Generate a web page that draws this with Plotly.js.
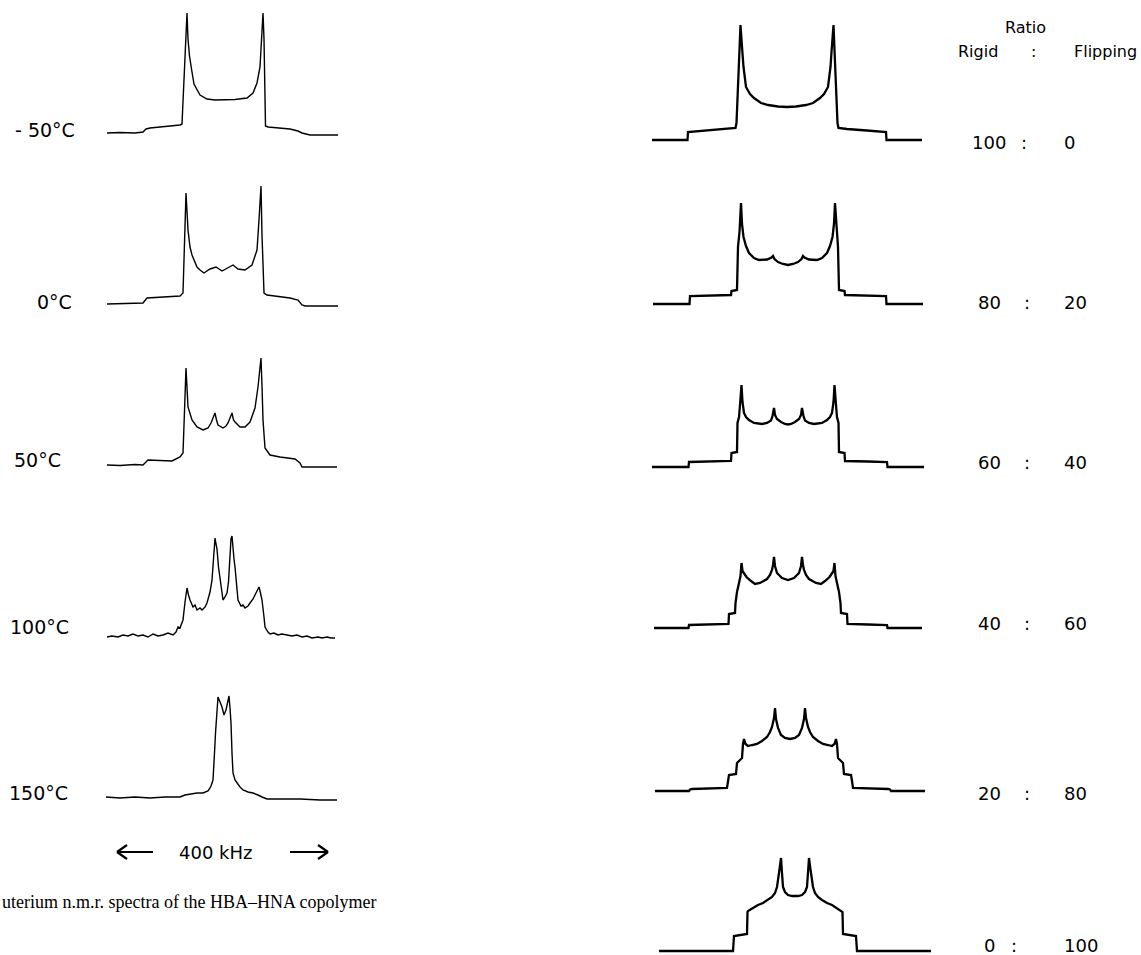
<!DOCTYPE html>
<html><head><meta charset="utf-8">
<script src="https://cdn.plot.ly/plotly-3.0.1.min.js"></script>
<style>html,body{margin:0;padding:0;background:#fff;overflow:hidden;} #chart{width:1141px;height:955px;}</style>
</head><body><div id="chart"></div>
<script>
// ---------- text ----------
const tempLabels = ["- 50°C", "0°C", "50°C", "100°C", "150°C"];
const ratioTitle = "Ratio";
const ratioHeadRigid = "Rigid";
const ratioHeadFlip = "Flipping";
const rigidPct = ["100", "80", "60", "40", "20", "0"];
const flipPct = ["0", "20", "40", "60", "80", "100"];
const scaleLabel = "400 kHz";
const captionText = "uterium n.m.r. spectra of the HBA\u2013HNA copolymer";

// ---------- experimental spectra (x: kHz offset, y: intensity, arbitrary units) ----------
const expM50_x = [-236,-210,-180,-164,-158,-150,-130,-110,-90,-86,-82,-79,-77,-76,-74,-71,-67,-62,-50,-36,-20,0,20,36,44,56,64,70,73,76,78,80,81,86,110,130,146,154,170,226];
const expM50_y = [1,1.5,1,2,5,6,7,8,9,10,55,100,115,121,95,78,65,50,39,35,34,34,34.5,35.5,36,41,51,67,91,121,95,51,8,7,6,5,3,1,-1,-1];

const exp0_x = [-236,-200,-164,-156,-140,-120,-106,-90,-84,-81,-78,-74,-70,-66,-56,-50,-42,-30,-18,-6,6,16,26,40,54,64,68,72,74,76,78,84,116,130,146,154,160,226];
const exp0_y = [1,1.5,2,7,7.5,8,8.5,9,12,60,112,75,58,50,38,35,32,36,38,34,37,40,36,35,40,55,85,119,70,25,12,10,8,7,5,0,-1,-1];

const exp50_x = [-236,-210,-180,-164,-154,-130,-106,-90,-84,-81,-78,-74,-70,-66,-56,-44,-34,-28,-24,-20,-17,-14,-4,2,6,10,14,17,20,30,40,50,60,66,72,74,76,80,90,110,130,140,150,154,224];
const exp50_y = [1,0.5,1.5,1,6,5.5,5,9,13,55,98,59,52,46,39,36,38,43,48,53,46,41,38,40,43,48,53,46,44,39,39,44,58,79,108,80,46,18,11,9,8,7,3,-1,-1];

const exp100_x = [-236,-226,-214,-204,-194,-184,-174,-164,-154,-144,-134,-124,-114,-104,-98,-94,-90,-84,-80,-76,-73,-70,-64,-60,-56,-50,-46,-40,-36,-30,-26,-22,-20,-18,-16,-13,-10,-7,-4,0,4,7,10,12,14,16,18,20,23,26,32,36,40,46,50,56,60,64,68,71,74,78,80,86,90,98,106,114,124,134,144,154,164,174,186,194,204,212,220];
const exp100_y = [0,1,0,2,1,3,1,2,0,3,1,2,4,2,5,10,9,17,35,49,42,37,30,32,27,29,27,30,34,45,57,85,99,93,88,70,57,45,37,40,44,55,90,98,101,85,78,70,50,37,31,32,29,31,34,38,42,46,50,44,37,20,10,5,3,4,2,3,2,1,2,0,1,-1,0,-1,0,-1,-1];

const exp150_x = [-238,-210,-180,-150,-120,-90,-80,-70,-56,-44,-38,-34,-30,-28,-24,-22,-21,-19,-16,-14,-10,-6,-2,2,5,8,10,12,14,16,20,24,30,36,46,56,62,66,74,84,116,150,190,224];
const exp150_y = [1,0,1,0,1,1,3,4,5,5,6,7,10,12,18,30,45,65,85,101,96,91,83,88,95,102,90,75,45,25,18,15,11,8,6,5,4,3,1,-1,-1,-1,-2,-2];

// ---------- simulated spectra (rigid : flipping) ----------
const sim100_x = [-216,-159.2,-158.4,-128,-96,-82.4,-80.8,-79.2,-77.6,-76,-74.4,-72.8,-71.2,-69.6,-65.6,-59.2,-52.8,-41.6,-30.4,-14.4,0,14.4,30.4,41.6,52.8,59.2,65.6,69.6,71.2,72.8,74.4,76,77.6,79.2,80.8,82.4,96,128,158.4,159.2,216];
const sim100_y = [0,0,8,9.5,11,12,17,40,63,90,115,100,88,73,53,46,42,37,35,33.5,33,33.5,35,37,42,46,53,73,88,100,115,90,63,40,17,12,11,9.5,8,0,0];

const sim80_x = [-216,-157.6,-156.8,-128,-91.2,-90.4,-81.6,-80,-77.6,-75.2,-73.6,-71.2,-67.2,-62.4,-54.4,-46.4,-33.6,-26.4,-24,-21.6,-16,-8,0,8,16,21.6,24,26.4,33.6,46.4,54.4,62.4,67.2,71.2,73.6,75.2,77.6,80,81.6,90.4,91.2,128,156.8,157.6,216];
const sim80_y = [0,0,8,8.5,9,13,14,57,72,101,80,67,58,51,46,44,44.5,46.5,48,45,42,40,39,40,42,45,48,46.5,44.5,44,46,51,58,67,80,101,72,57,14,13,9,8.5,8,0,0];

const sim60_x = [-217.6,-159.2,-158.4,-128,-91.2,-90.4,-81.6,-80.8,-78.4,-76.8,-74.4,-72.8,-70.4,-67.2,-62.4,-54.4,-41.6,-33.6,-27.2,-24.8,-22.4,-20.8,-17.6,-11.2,-4.8,0,4.8,11.2,17.6,20.8,22.4,24.8,27.2,33.6,41.6,54.4,62.4,67.2,70.4,72.8,74.4,76.8,78.4,80.8,81.6,90.4,91.2,128,158.4,159.2,217.6];
const sim60_y = [0,0,5,5.5,6,14,15,44,50,62,82,65,54,50,47,44,43,44,46.5,51,59,52,48,45,43,42.5,43,45,48,52,59,51,46.5,44,43,44,47,50,54,65,82,62,50,44,15,14,6,5.5,5,0,0];

const sim40_x = [-214.4,-159.2,-158.4,-128,-95.2,-94.4,-84.8,-84,-81.6,-78.4,-76,-74.4,-72.8,-69.6,-66.4,-59.2,-52.8,-44.8,-33.6,-28.8,-25.6,-24,-22.4,-20.8,-17.6,-9.6,0,9.6,17.6,20.8,22.4,24,25.6,28.8,33.6,44.8,52.8,59.2,66.4,69.6,72.8,74.4,76,78.4,81.6,84,84.8,94.4,95.2,128,158.4,159.2,214.4];
const sim40_y = [0,0,3,3.5,4,14,15,25,36,45,52,65,57,54,51,47,44,45,49,53,58,63,71,62,55,50,48,50,55,62,71,63,58,53,49,45,44,47,51,54,57,65,52,45,36,25,15,14,4,3.5,3,0,0];

const sim20_x = [-216,-161.6,-160,-156.8,-100.8,-99.2,-97.6,-86.4,-84.8,-80,-76.8,-75.2,-73.6,-71.2,-67.2,-60.8,-52.8,-44.8,-36.8,-32,-28.8,-25.6,-24,-22.4,-19.2,-14.4,-8,0,8,14.4,19.2,22.4,24,25.6,28.8,32,36.8,44.8,52.8,60.8,67.2,71.2,73.6,75.2,76.8,80,84.8,86.4,97.6,99.2,100.8,156.8,160,161.6,216];
const sim20_y = [0,0,1.5,2,3,10,16,17,28,31,33,47,52,47,45,46,47,50,54,59,64,73,83,72,63,56,53,52,53,56,63,72,83,73,64,59,54,50,47,46,45,47,52,47,33,31,28,17,16,10,3,2,1.5,0,0];

const sim0_x = [-217.6,-99.2,-97.6,-76.8,-76,-75.2,-67.2,-59.2,-51.2,-43.2,-36.8,-32,-28.8,-25.6,-24,-22.4,-20.8,-19.2,-16,-11.2,-4.8,0,4.8,11.2,16,19.2,20.8,22.4,24,25.6,28.8,32,36.8,43.2,51.2,59.2,67.2,75.2,76,76.8,97.6,99.2,217.6];
const sim0_y = [0,0,15,17,39,40,43,46,48,51,54,58,64,78,85,93,78,64,59,56,55,55,55,56,59,64,78,93,85,78,64,58,54,51,48,46,43,40,39,17,15,0,0];

// ---------- layout geometry (pixels) ----------
const W = 1141, H = 955;
const FONT = "'DejaVu Sans', 'Open Sans', sans-serif";
const expSets = [[expM50_x, expM50_y], [exp0_x, exp0_y], [exp50_x, exp50_y], [exp100_x, exp100_y], [exp150_x, exp150_y]];
const simSets = [[sim100_x, sim100_y], [sim80_x, sim80_y], [sim60_x, sim60_y], [sim40_x, sim40_y], [sim20_x, sim20_y], [sim0_x, sim0_y]];
const leftBase = [134, 305, 466, 637, 798];
const rightBase = [140, 304, 467, 628, 791, 951];
const rightCenter = [787, 788, 788, 788, 790, 795];
const leftCenter = 225, leftScale = 2, rightScale = 1.6;
const LX0 = 95, LX1 = 350, RX0 = 640, RX1 = 940;
const Y_LO = -4, Y_HI = 130;

const traces = [];
const layout = {
  width: W, height: H, margin: {l: 0, r: 0, t: 0, b: 0},
  paper_bgcolor: '#fff', plot_bgcolor: 'rgba(0,0,0,0)', showlegend: false,
  annotations: [], shapes: []
};
let k = 0;
function addPanel(xs, ys, cx, base, scale, x0, x1, lw) {
  k += 1;
  const n = k === 1 ? '' : String(k);
  layout['xaxis' + n] = {domain: [x0 / W, x1 / W], range: [(x0 - cx) * scale, (x1 - cx) * scale],
    visible: false, fixedrange: true, anchor: 'y' + n};
  layout['yaxis' + n] = {domain: [Math.max(0, 1 - (base - Y_LO) / H), Math.min(1, 1 - (base - Y_HI) / H)],
    range: [Y_LO, Y_HI], visible: false, fixedrange: true, anchor: 'x' + n};
  traces.push({x: xs, y: ys, xaxis: 'x' + n, yaxis: 'y' + n, type: 'scatter', mode: 'lines',
    line: {color: '#000', width: lw, shape: 'linear'}, hoverinfo: 'skip', cliponaxis: false});
}
expSets.forEach((s, i) => addPanel(s[0], s[1], leftCenter, leftBase[i], leftScale, LX0, LX1, 1.4));
simSets.forEach((s, i) => addPanel(s[0], s[1], rightCenter[i], rightBase[i], rightScale, RX0, RX1, 2.3));

function txt(text, px, py, size, anchor, family) {
  layout.annotations.push({text: text, x: px / W, y: 1 - py / H, xref: 'paper', yref: 'paper',
    xanchor: anchor || 'left', yanchor: 'middle', showarrow: false,
    font: {family: family || FONT, size: size, color: '#000'}});
}
// temperature labels
const tempPos = [[13, 130], [35, 302], [12, 460], [8, 627], [7, 793]];
tempLabels.forEach((t, i) => txt(t, tempPos[i][0], tempPos[i][1], 19));
// ratio header
txt(ratioTitle, 1025, 27, 16, 'center');
txt(ratioHeadRigid, 956, 52, 16, 'left');
txt(":", 1033, 52, 16, 'center');
txt(ratioHeadFlip, 1072, 52, 16, 'left');
// ratio rows
const rowY = [143, 302, 462, 623, 793, 945];
const colonX = [1024, 1027, 1027, 1027, 1027, 1014];
rigidPct.forEach((r, i) => {
  txt(r, 989, rowY[i], 18, 'center');
  txt(":", colonX[i], rowY[i], 18, 'center');
  txt(flipPct[i], 1062, rowY[i], 18, 'left');
});
// scale bar
txt(scaleLabel, 216, 852, 18, 'center');
function seg(x0, y0, x1, y1) {
  layout.shapes.push({type: 'line', xref: 'paper', yref: 'paper', x0: x0 / W, y0: 1 - y0 / H, x1: x1 / W, y1: 1 - y1 / H,
    line: {color: '#000', width: 2.2}});
}
seg(117, 852, 153, 852); seg(117, 852, 127, 845); seg(117, 852, 127, 859);
seg(290, 852, 328, 852); seg(328, 852, 318, 845); seg(328, 852, 318, 859);
// caption
txt(captionText, 0, 902, 18, 'left', "'Liberation Serif', 'Times New Roman', serif");

Plotly.newPlot('chart', traces, layout, {displayModeBar: false, staticPlot: true});
</script>
</body></html>
